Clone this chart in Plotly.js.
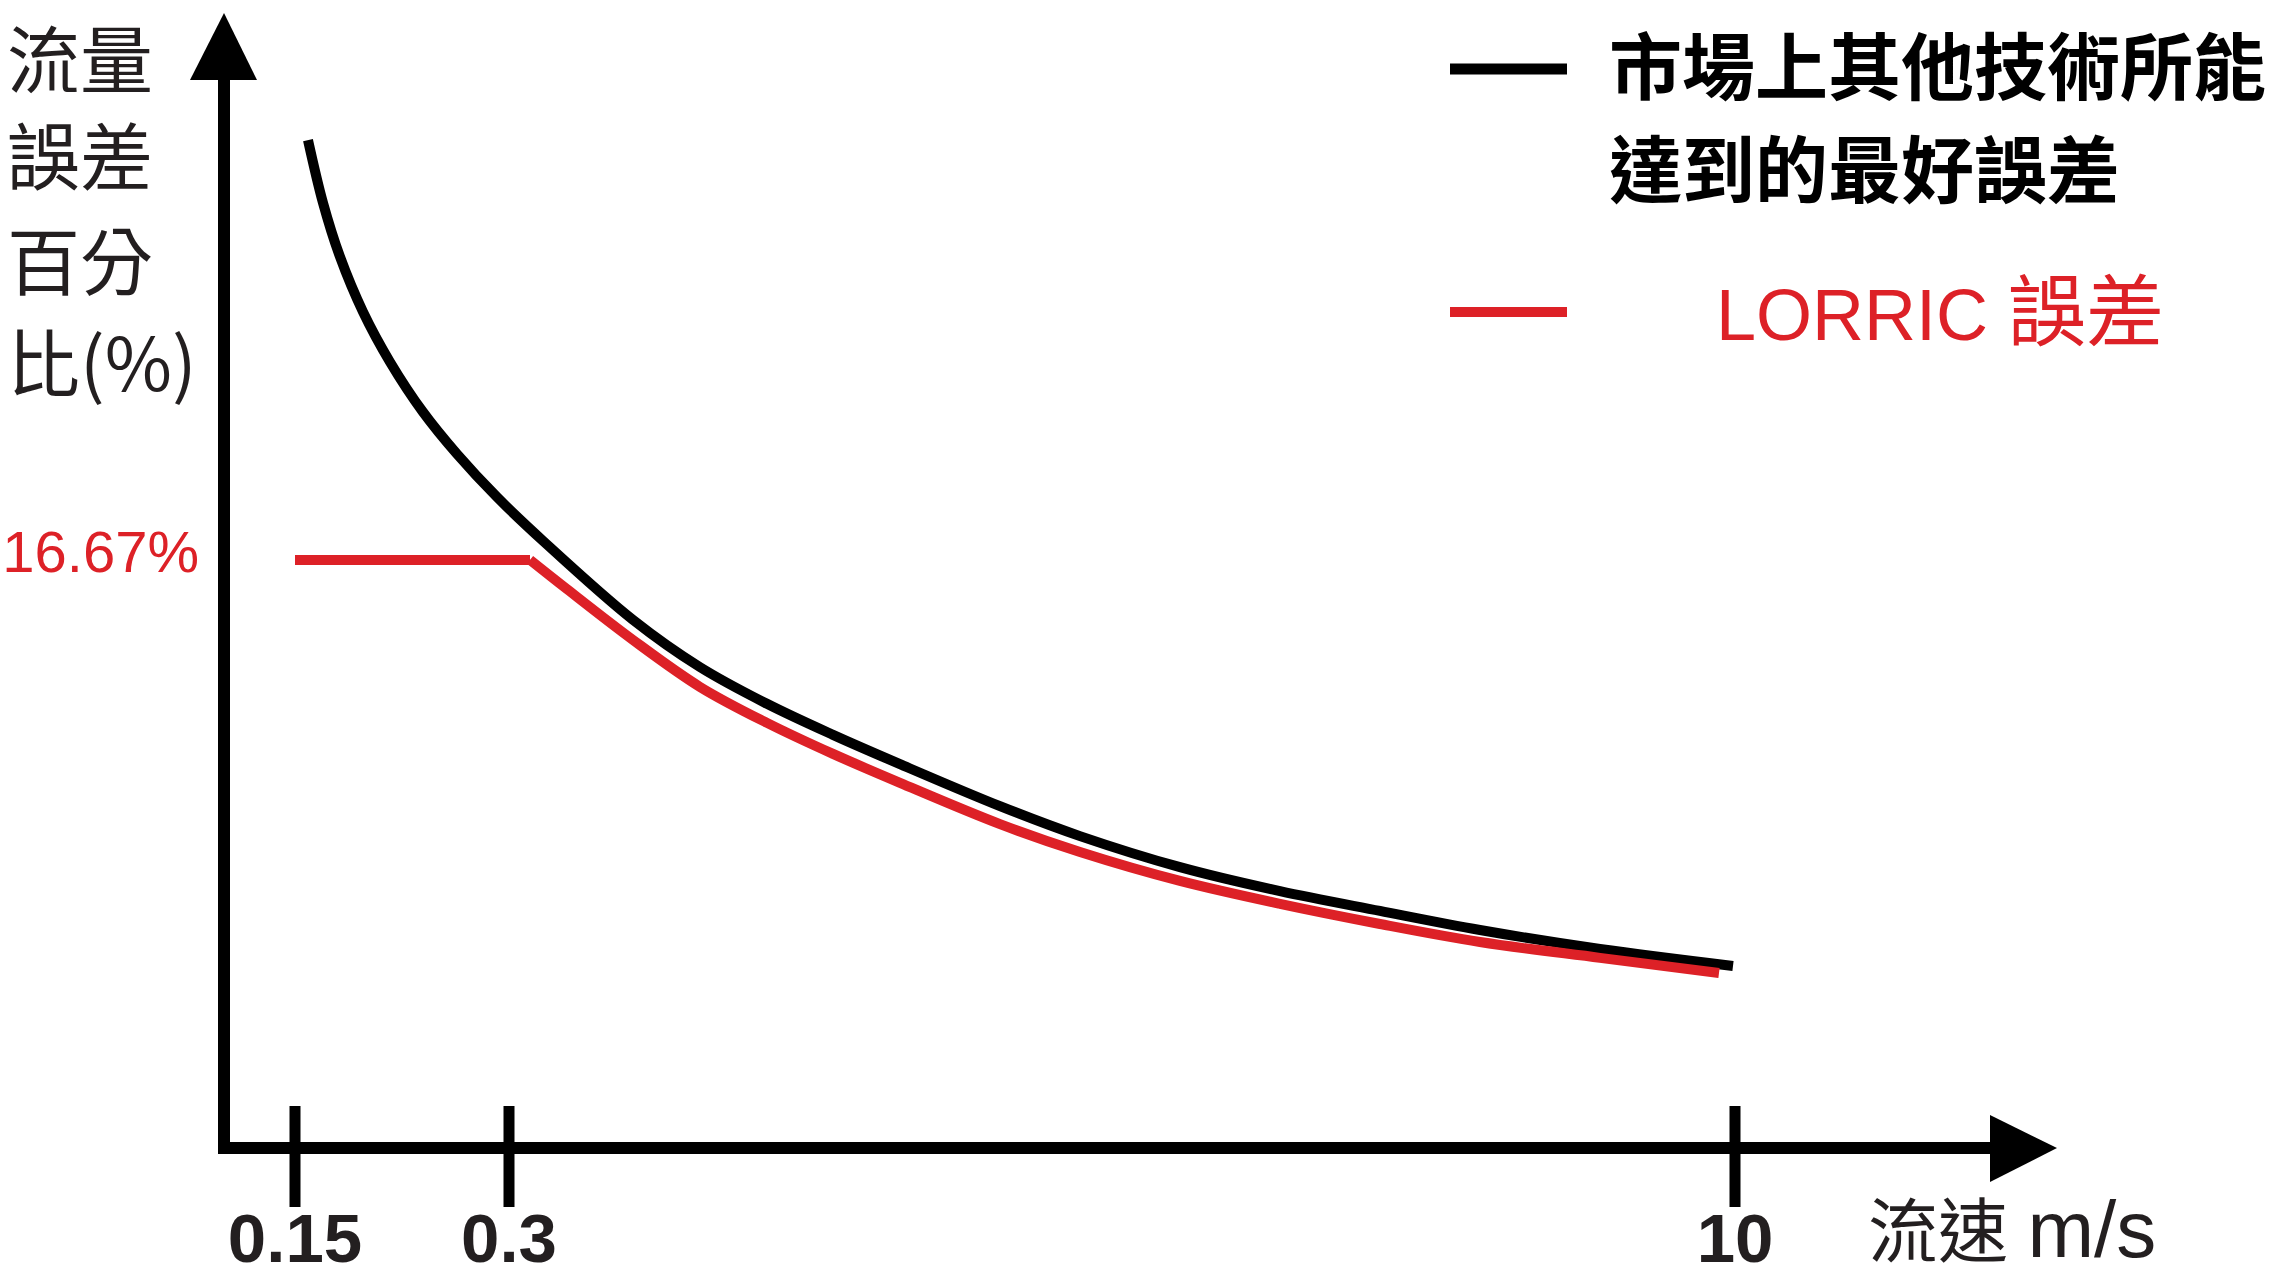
<!DOCTYPE html>
<html>
<head>
<meta charset="utf-8">
<script src="https://cdn.plot.ly/plotly-3.0.1.min.js"></script>
<style>
  html, body { margin: 0; padding: 0; background: #ffffff; }
  #chart { width: 2274px; height: 1278px; }
</style>
</head>
<body>
<div id="chart"></div>
<script>
// ---------------- DATA ----------------
// Schematic chart: the velocity axis is not drawn to scale, so x values are
// positions along the drawn axis; tick labels give the real velocities (m/s).
const xTickPos    = [0.71, 2.85, 15.11];
const xTickLabels = ['0.15', '0.3', '10'];

// Flow error percentage (%)
const yTickVals   = [16.67];
const yTickLabels = ['16.67%'];

// Series 1: best error achievable by other technologies on the market
const marketName  = ['市場上其他技術所能', '達到的最好誤差'];
const marketX = [0.84, 0.99, 1.16, 1.39, 1.66, 1.99, 2.33, 2.73, 3.19, 4.09, 4.76,
                 5.43, 6.09, 6.76, 7.76, 8.56, 9.56, 10.56, 11.56, 12.56, 13.76, 15.09];
const marketY = [28.57, 26.79, 25.26, 23.70, 22.28, 20.86, 19.67, 18.45, 17.21, 14.97, 13.63,
                 12.59, 11.71, 10.88, 9.69, 8.84, 7.96, 7.28, 6.72, 6.18, 5.64, 5.16];

// Series 2: LORRIC error (flat cap at 16.67% up to the kink, then a smooth decline)
const lorricName = ['LORRIC', '誤差'];
const lorricX = [0.71, 3.06, 3.43, 4.09, 4.76, 5.43, 6.09, 6.76, 7.76, 8.56, 9.56, 10.56,
                 11.56, 12.56, 13.76, 14.95];
const lorricY = [16.67, 16.67, 15.84, 14.40, 13.07, 12.05, 11.17, 10.35, 9.18, 8.39, 7.57, 6.92,
                 6.35, 5.84, 5.39, 4.96];
const lorricKink = 1;   // index where the flat cap ends

const yTitleLines = ['流量', '誤差', '百分', '比(%)'];
const xTitle = ['流速', 'm/s'];

// ---------------- STYLE / LAYOUT ----------------
const W = 2274, H = 1278;
const plotL = 224, plotR = 2057, plotT = 13, plotB = 1148;
const pxX = p => (p - plotL) / (plotR - plotL);
const pxY = p => (plotB - p) / (plotB - plotT);

const RED = '#dd2127';
const INK = '#231f20';
const CJK = '"Noto Sans CJK TC", "Noto Sans CJK SC", sans-serif';
const LAT = '"Liberation Sans", Arial, "Noto Sans CJK TC", sans-serif';

const traces = [
  { x: marketX, y: marketY, type: 'scatter', mode: 'lines', name: marketName.join(''),
    line: { color: '#000000', width: 10, shape: 'spline', smoothing: 1 }, hoverinfo: 'skip' },
  { x: lorricX.slice(0, lorricKink + 1), y: lorricY.slice(0, lorricKink + 1), type: 'scatter', mode: 'lines',
    name: lorricName.join(' '), legendgroup: 'lorric',
    line: { color: RED, width: 10, shape: 'linear' }, hoverinfo: 'skip' },
  { x: lorricX.slice(lorricKink), y: lorricY.slice(lorricKink), type: 'scatter', mode: 'lines',
    name: lorricName.join(' '), legendgroup: 'lorric',
    line: { color: RED, width: 10, shape: 'spline', smoothing: 1 }, hoverinfo: 'skip' }
];

const shapes = [];
// y axis line + arrow
shapes.push({ type: 'line', xref: 'paper', yref: 'paper', x0: pxX(224), x1: pxX(224), y0: pxY(1154), y1: pxY(76),
              line: { color: '#000', width: 12 } });
shapes.push({ type: 'path', xref: 'paper', yref: 'paper',
              path: `M ${pxX(190)},${pxY(80)} L ${pxX(257)},${pxY(80)} L ${pxX(224)},${pxY(13)} Z`,
              fillcolor: '#000', line: { width: 0 } });
// x axis line + arrow
shapes.push({ type: 'line', xref: 'paper', yref: 'paper', x0: pxX(218), x1: pxX(1994), y0: pxY(1148), y1: pxY(1148),
              line: { color: '#000', width: 12 } });
shapes.push({ type: 'path', xref: 'paper', yref: 'paper',
              path: `M ${pxX(1990)},${pxY(1115)} L ${pxX(1990)},${pxY(1182)} L ${pxX(2057)},${pxY(1148)} Z`,
              fillcolor: '#000', line: { width: 0 } });
// crossing tick marks at the tick positions
xTickPos.forEach(v => {
  shapes.push({ type: 'line', xref: 'x', yref: 'paper', x0: v, x1: v, y0: pxY(1207), y1: pxY(1106),
                line: { color: '#000', width: 11 } });
});
// legend samples
shapes.push({ type: 'line', xref: 'paper', yref: 'paper', x0: pxX(1450), x1: pxX(1567), y0: pxY(69), y1: pxY(69),
              line: { color: '#000', width: 11 } });
shapes.push({ type: 'line', xref: 'paper', yref: 'paper', x0: pxX(1450), x1: pxX(1567), y0: pxY(312), y1: pxY(312),
              line: { color: RED, width: 10 } });

const annotations = [];
const yTitleCenters = [55, 152, 257, 359];
yTitleLines.forEach((t, i) => {
  annotations.push({ xref: 'paper', yref: 'paper', x: pxX(5), y: pxY(yTitleCenters[i]),
    xanchor: 'left', yanchor: 'middle', showarrow: false, text: t,
    font: { family: CJK, size: 73, color: INK } });
});
const legendCenters = [62, 165];
marketName.forEach((t, i) => {
  annotations.push({ xref: 'paper', yref: 'paper', x: pxX(1607), y: pxY(legendCenters[i]),
    xanchor: 'left', yanchor: 'middle', showarrow: false, text: t,
    font: { family: CJK, size: 73, color: '#000', weight: 'bold' } });
});
annotations.push({ xref: 'paper', yref: 'paper', x: pxX(1714), y: pxY(313),
  xanchor: 'left', yanchor: 'middle', showarrow: false,
  text: lorricName[0] + ' <span style="font-size:78px">' + lorricName[1] + '</span>',
  font: { family: LAT, size: 72, color: RED } });
annotations.push({ xref: 'paper', yref: 'paper', x: pxX(1866), y: pxY(1226),
  xanchor: 'left', yanchor: 'middle', showarrow: false,
  text: '<span style="font-family:\'Noto Sans CJK TC\'">' + xTitle[0] + '</span> <span style="font-size:80px">' + xTitle[1] + '</span>',
  font: { family: LAT, size: 70, color: INK } });

const layout = {
  width: W, height: H,
  margin: { l: plotL, r: W - plotR, t: plotT, b: H - plotB, pad: 0 },
  paper_bgcolor: '#ffffff', plot_bgcolor: '#ffffff',
  showlegend: false,
  xaxis: { range: [0, (plotR - plotL) / 100], showgrid: false, zeroline: false, showline: false,
           tickmode: 'array', tickvals: xTickPos, ticktext: xTickLabels, ticks: '',
           ticklabelstandoff: 44,
           tickfont: { family: '"Liberation Sans", Arial, sans-serif', size: 69, color: INK, weight: 'bold' },
           fixedrange: true },
  yaxis: { range: [0, (plotB - plotT) / 35.28], showgrid: false, zeroline: false, showline: false,
           tickmode: 'array', tickvals: yTickVals, ticktext: yTickLabels, ticks: '',
           ticklabelstandoff: 24, ticklabelshift: -8,
           tickfont: { family: '"Liberation Sans", Arial, sans-serif', size: 58, color: RED },
           fixedrange: true },
  shapes: shapes,
  annotations: annotations
};

Plotly.newPlot('chart', traces, layout, { staticPlot: true, displayModeBar: false });
</script>
</body>
</html>
